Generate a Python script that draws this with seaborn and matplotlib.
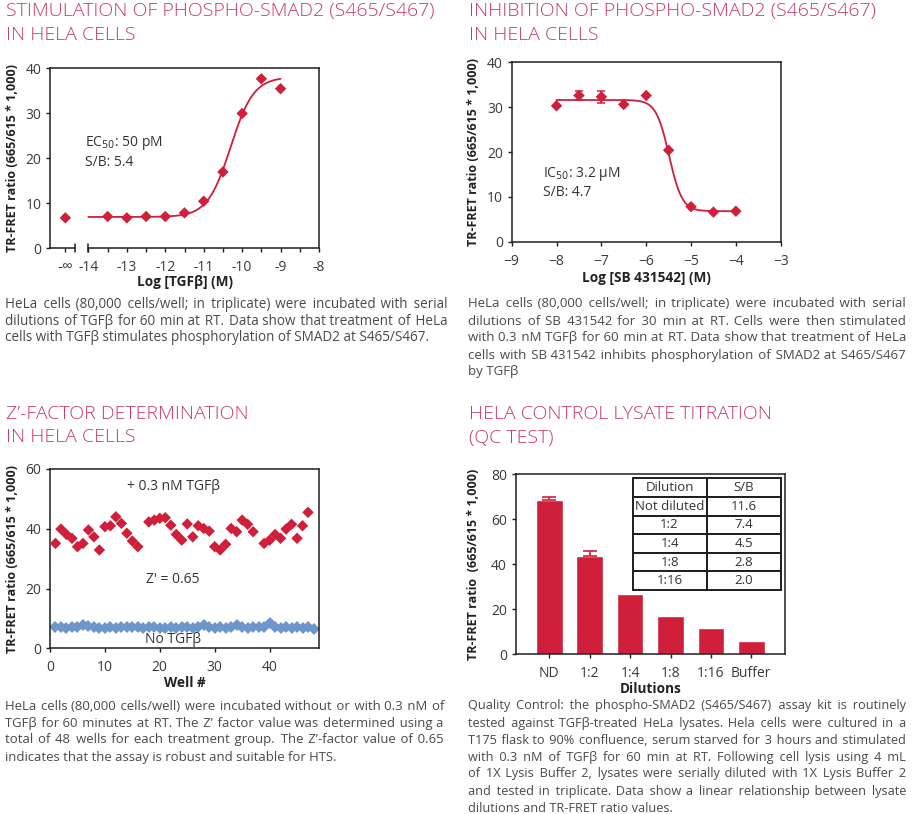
import numpy as np
import matplotlib
matplotlib.use("Agg")
import matplotlib.pyplot as plt
import seaborn as sns

W, H = 913, 814

# --- stimulation panel (TGFb dose response), -14.6 is the "-inf" (no TGFb) point
stim_logc = [-14.6, -13.5, -13.0, -12.5, -12.0, -11.5, -11.0, -10.5, -10.0, -9.5, -9.0]
stim_ratio = [6.7, 7.0, 6.7, 7.0, 7.0, 7.8, 10.4, 16.9, 29.9, 37.6, 35.4]
stim_bottom, stim_top, stim_logec50, stim_hill = 6.9, 38.0, -10.3, 1.45
stim_xticks = [-14.6, -14, -13, -12, -11, -10, -9, -8]
stim_xticklabels = ["-\u221e", "-14", "-13", "-12", "-11", "-10", "-9", "-8"]

# --- inhibition panel (SB 431542)
inh_logc = [-8.0, -7.5, -7.0, -6.5, -6.0, -5.5, -5.0, -4.5, -4.0]
inh_ratio = [30.3, 32.6, 32.3, 30.6, 32.6, 20.4, 7.8, 6.6, 6.8]
inh_err = [0.0, 1.1, 1.3, 0.0, 0.0, 0.0, 0.0, 0.0, 0.0]
inh_bottom, inh_top, inh_logic50, inh_hill = 6.8, 31.6, -5.49, 3.0

# --- Z' panel (48 wells)
wells = list(range(1, 49))
with_tgfb = [35.1, 39.9, 38.1, 36.8, 34.0, 35.1, 39.6, 37.3, 32.9, 40.7,
             41.0, 44.0, 41.8, 38.5, 35.9, 34.0, np.nan, 42.3, 42.9, 43.5,
             43.7, 41.2, 38.1, 36.2, 41.6, 37.3, 41.0, 40.1, 39.2, 34.0,
             32.9, 34.8, 40.1, 39.0, 42.9, 41.5, 39.0, np.nan, 35.1, 36.2,
             38.1, 36.8, 39.9, 41.5, 36.8, 41.0, 45.5, np.nan]
no_tgfb = [7.0, 7.1, 6.9, 7.2, 7.0, 7.9, 7.3, 7.1, 6.9, 6.7,
           7.0, 6.9, 7.1, 7.0, 7.2, 7.1, 6.9, 7.0, 7.2, 6.8,
           6.9, 7.0, 6.8, 7.1, 7.0, 6.9, 7.2, 7.9, 7.1, 6.9,
           7.0, 6.8, 7.0, 7.7, 7.0, 6.9, 7.2, 7.1, 7.0, 8.4,
           7.1, 6.8, 7.0, 6.9, 7.1, 6.8, 7.0, 6.6]

# --- lysate titration
dilutions = ["ND", "1:2", "1:4", "1:8", "1:16", "Buffer"]
dil_ratio = [68.6, 43.9, 26.7, 16.9, 11.7, 5.9]
dil_err = [1.5, 1.8, 0.0, 0.0, 0.0, 0.0]
table_dilution = ["Not diluted", "1:2", "1:4", "1:8", "1:16"]
table_sb = ["11.6", "7.4", "4.5", "2.8", "2.0"]

RED = "#cf1f3a"
BLUE = "#6f96cb"
TITLE = "#c83a62"
GREY = "#4a4a4a"
YLAB = "TR-FRET ratio (665/615 * 1,000)"

sns.set_theme(style="ticks")
plt.rcParams["font.family"] = ["Open Sans", "DejaVu Sans"]
plt.rcParams["axes.linewidth"] = 1.1

fig = plt.figure(figsize=(W / 100, H / 100), dpi=100)


def add_ax(left, top, right, bottom):
    ax = fig.add_axes([left / W, 1 - bottom / H, (right - left) / W, (bottom - top) / H])
    for s in ax.spines.values():
        s.set_color("#1e1e1e")
        s.set_linewidth(1.1)
    ax.tick_params(direction="out", length=3.2, width=1, color="#1e1e1e",
                   labelsize=10, labelcolor="#3a3a3a", pad=3)
    ax.tick_params(axis="x", pad=5.5)
    ax.tick_params(which="minor", direction="out", length=3.2, width=1, color="#1e1e1e")
    return ax


def four_pl(x, bottom, top, logmid, hill):
    return bottom + (top - bottom) / (1 + 10 ** ((logmid - x) * hill))


def labels(ax, xlabel, xlab_y, ylab_x, ylabel=YLAB):
    ax.set_xlabel(xlabel, fontweight="bold", fontsize=9.8, color="#222")
    ax.xaxis.set_label_coords(0.5, xlab_y)
    ax.set_ylabel(ylabel, fontweight="bold", fontsize=9, color="#222")
    ax.yaxis.set_label_coords(ylab_x, 0.5)


def title(x, y, lines):
    for i, t in enumerate(lines):
        fig.text(x / W, 1 - (y + i * 23.5) / H, t, fontsize=14, fontweight="light",
                 color=TITLE, va="center", ha="left")


def text_width(s, size, r):
    t = fig.text(0, 0, s, fontsize=size)
    w = t.get_window_extent(r).width
    t.remove()
    return w


def paragraph(x0, x1, y0, lines, lh=17):
    # justified text block: font size chosen so the lines fill the column,
    # remaining slack spread over the word gaps with hair spaces
    r = fig.canvas.get_renderer()
    base = 9.0
    size = min(base * (x1 - x0) / text_width(l, base, r) for l in lines[:-1]) * 0.985
    hair = text_width("a\u200aa", size, r) - text_width("aa", size, r)
    for i, line in enumerate(lines):
        y = 1 - (y0 + i * lh) / H
        words = line.split(" ")
        if i < len(lines) - 1 and hair > 0.3:
            slack = (x1 - x0) - text_width(line, size, r)
            per_gap = slack / (len(words) - 1) / hair
            out, done = words[0], 0
            for k, w in enumerate(words[1:], start=1):
                n = int(round(per_gap * k)) - done
                done += n
                out += " " + "\u200a" * n + w
            line = out
        fig.text(x0 / W, y, line, fontsize=size, color=GREY, va="center", ha="left")


# ---------------- panel 1: stimulation
ax1 = add_ax(50, 68, 319, 248)
xs = np.linspace(-14, -9, 200)
sns.lineplot(x=xs, y=four_pl(xs, stim_bottom, stim_top, stim_logec50, stim_hill),
             ax=ax1, color=RED, linewidth=1.3, errorbar=None)
sns.scatterplot(x=stim_logc, y=stim_ratio, ax=ax1, marker="D", s=34, color=RED,
                edgecolor="none", zorder=3)
ax1.set_xlim(-15, -8)
ax1.set_ylim(0, 40)
ax1.set_yticks([0, 10, 20, 30, 40])
ax1.set_xticks(stim_xticks)
ax1.set_xticklabels(stim_xticklabels)
ax1.get_xticklabels()[0].set_fontsize(11)
ax1.set_xticks(np.arange(-13.5, -8, 1.0), minor=True)
ax1.spines["bottom"].set_visible(False)
xt = ax1.get_xaxis_transform()
ax1.plot([-15, -14.35], [0, 0], transform=xt, color="#1e1e1e", lw=1.1, clip_on=False)
ax1.plot([-14, -8], [0, 0], transform=xt, color="#1e1e1e", lw=1.1, clip_on=False)
for bx in [-14.35, -14.0]:
    ax1.plot([bx, bx], [-0.02, 0.02], transform=xt, color="#1e1e1e", lw=1.1, clip_on=False)
ax1.text(-14.1, 23.3, "EC$_{50}$: 50 pM", fontsize=10, color="#333", va="center")
ax1.text(-14.1, 18.9, "S/B: 5.4", fontsize=10, color="#333", va="center")
labels(ax1, "Log [TGF\u03b2] (M)", -0.15, -0.115)

# ---------------- panel 2: inhibition
ax2 = add_ax(511.7, 62.3, 780.7, 241.7)
xs = np.linspace(-8, -4, 200)
sns.lineplot(x=xs, y=four_pl(xs, inh_top, inh_bottom, inh_logic50, inh_hill),
             ax=ax2, color=RED, linewidth=1.3, errorbar=None)
err_idx = [i for i, e in enumerate(inh_err) if e > 0]
ax2.errorbar([inh_logc[i] for i in err_idx], [inh_ratio[i] for i in err_idx],
             yerr=[inh_err[i] for i in err_idx], fmt="none", ecolor=RED,
             elinewidth=1.1, capsize=3, capthick=1.1)
sns.scatterplot(x=inh_logc, y=inh_ratio, ax=ax2, marker="D", s=34, color=RED,
                edgecolor="none", zorder=3)
ax2.set_xlim(-9, -3)
ax2.set_ylim(0, 40)
ax2.set_yticks([0, 10, 20, 30, 40])
ax2.set_xticks(range(-9, -2))
ax2.text(-8.31, 15.1, "IC$_{50}$: 3.2 \u00b5M", fontsize=10, color="#333", va="center")
ax2.text(-8.31, 10.9, "S/B: 4.7", fontsize=10, color="#333", va="center")
labels(ax2, "Log [SB 431542] (M)", -0.163, -0.116)

# ---------------- panel 3: Z' factor
ax3 = add_ax(50, 469, 319, 648.3)
sns.lineplot(x=wells, y=no_tgfb, ax=ax3, color=BLUE, linewidth=2, marker="D",
             markersize=6.5, markeredgewidth=0, errorbar=None)
sns.scatterplot(x=wells, y=with_tgfb, ax=ax3, marker="D", s=34, color=RED,
                edgecolor="none", zorder=3)
ax3.set_xlim(0, 49)
ax3.set_ylim(0, 60)
ax3.set_yticks([0, 20, 40, 60])
ax3.set_xticks([0, 10, 20, 30, 40])
ax3.text(22.4, 54.3, "+ 0.3 nM TGF\u03b2", fontsize=10, color="#333", ha="center", va="center")
ax3.text(22.4, 22.9, "Z' = 0.65", fontsize=10, color="#333", ha="center", va="center")
ax3.text(22.4, 3.1, "No TGF\u03b2", fontsize=10, color="#333", ha="center", va="center")
labels(ax3, "Well #", -0.154, -0.115)

# ---------------- panel 4: lysate titration
ax4 = add_ax(515.7, 474.3, 785, 654.3)
sns.barplot(x=dilutions, y=dil_ratio, ax=ax4, color=RED, saturation=1, width=0.66)
err_idx = [i for i, e in enumerate(dil_err) if e > 0]
ax4.errorbar(err_idx, [dil_ratio[i] for i in err_idx], yerr=[[0] * len(err_idx),
             [dil_err[i] for i in err_idx]], fmt="none", ecolor=RED,
             elinewidth=1.2, capsize=5, capthick=1.2)
ax4.set_xlim(-0.835, 5.835)
ax4.set_ylim(0, 80)
ax4.set_yticks([0, 20, 40, 60, 80])
labels(ax4, "Dilutions", -0.154, -0.131, "TR-FRET ratio  (665/615 * 1,000)")
tbl = ax4.table(cellText=[[a, b] for a, b in zip(table_dilution, table_sb)],
                colLabels=["Dilution", "S/B"], cellLoc="center",
                bbox=[0.434, 0.357, 0.55, 0.62])
tbl.auto_set_font_size(False)
tbl.set_fontsize(9.5)
for cell in tbl.get_celld().values():
    cell.set_linewidth(1.4)
    cell.set_edgecolor("#1e1e1e")
    cell.get_text().set_color("#333")

# ---------------- titles and captions
title(6, 11, ["STIMULATION OF PHOSPHO-SMAD2 (S465/S467)", "IN HELA CELLS"])
title(469, 11, ["INHIBITION OF PHOSPHO-SMAD2 (S465/S467)", "IN HELA CELLS"])
title(6, 414, ["Z\u2019-FACTOR DETERMINATION", "IN HELA CELLS"])
title(469, 414, ["HELA CONTROL LYSATE TITRATION", "(QC TEST)"])

paragraph(5, 447, 304, [
    "HeLa cells (80,000 cells/well; in triplicate) were incubated with serial",
    "dilutions of TGF\u03b2 for 60 min at RT. Data show that treatment of HeLa",
    "cells with TGF\u03b2 stimulates phosphorylation of SMAD2 at S465/S467.",
])
paragraph(468, 906, 304, [
    "HeLa cells (80,000 cells/well; in triplicate) were incubated with serial",
    "dilutions of SB 431542 for 30 min at RT. Cells were then stimulated",
    "with 0.3 nM TGF\u03b2 for 60 min at RT. Data show that treatment of HeLa",
    "cells with SB 431542 inhibits phosphorylation of SMAD2 at S465/S467",
    "by TGF\u03b2",
])
paragraph(5, 444, 706, [
    "HeLa cells (80,000 cells/well) were incubated without or with 0.3 nM of",
    "TGF\u03b2 for 60 minutes at RT. The Z\u2019 factor value was determined using a",
    "total of 48 wells for each treatment group. The Z\u2019-factor value of 0.65",
    "indicates that the assay is robust and suitable for HTS.",
])
paragraph(468, 906, 706, [
    "Quality Control: the phospho-SMAD2 (S465/S467) assay kit is routinely",
    "tested against TGF\u03b2-treated HeLa lysates. Hela cells were cultured in a",
    "T175 flask to 90% confluence, serum starved for 3 hours and stimulated",
    "with 0.3 nM of TGF\u03b2 for 60 min at RT. Following cell lysis using 4 mL",
    "of 1X Lysis Buffer 2, lysates were serially diluted with 1X Lysis Buffer 2",
    "and tested in triplicate. Data show a linear relationship between lysate",
    "dilutions and TR-FRET ratio values.",
])

fig.savefig("out.png", dpi=100)
